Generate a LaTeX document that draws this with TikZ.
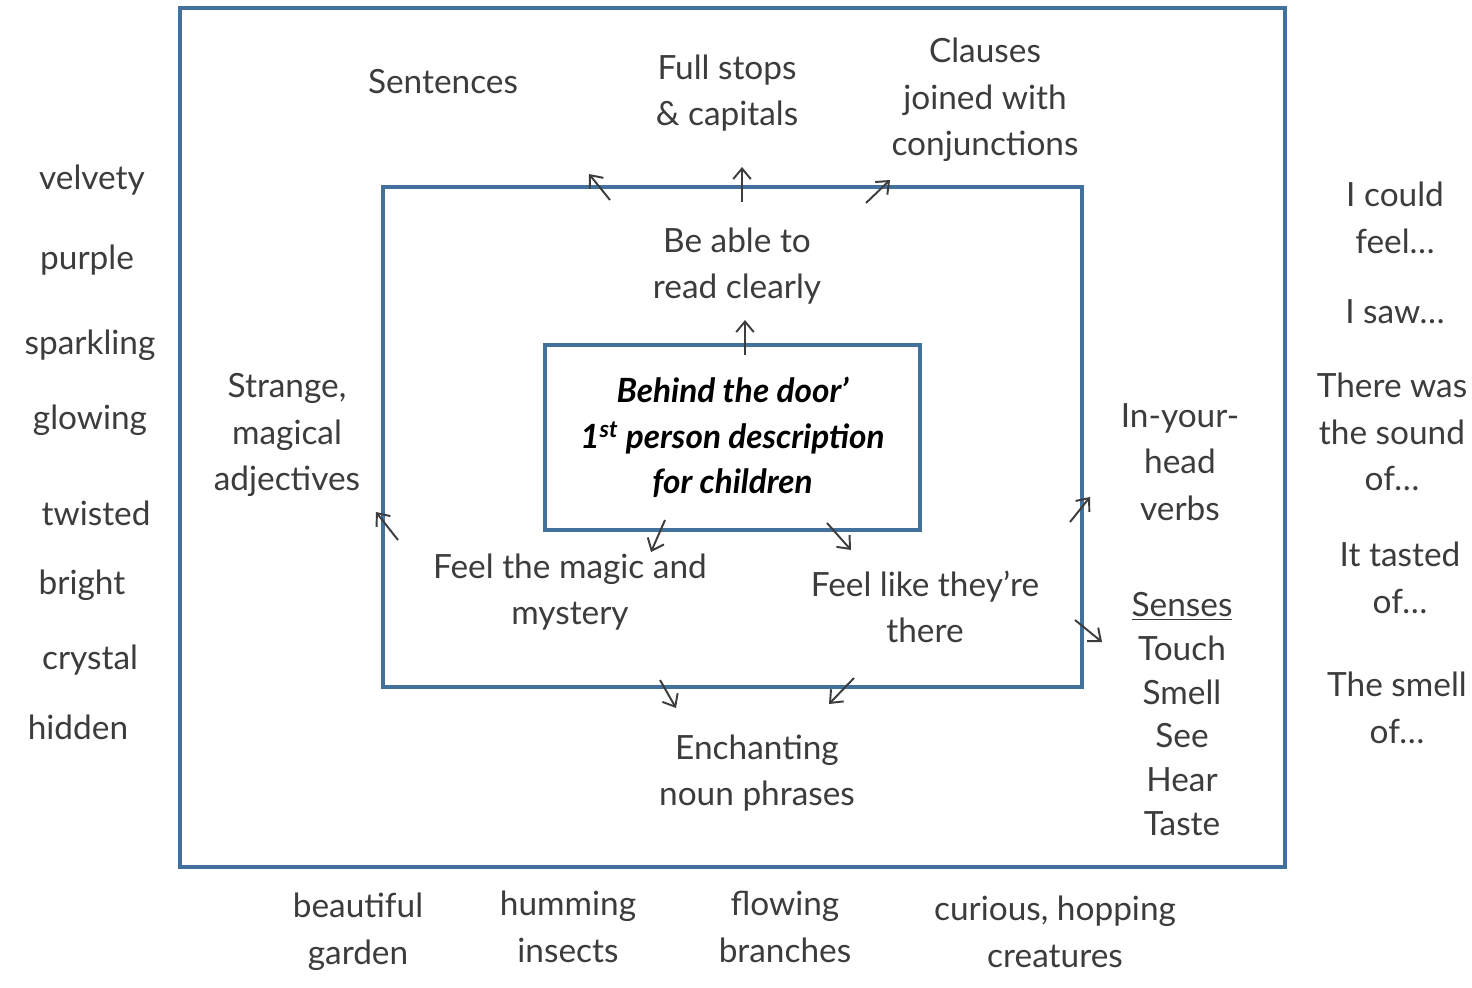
\documentclass[tikz,border=0pt]{standalone}
\usepackage{fontspec}
\setmainfont{Lato}
\usepackage{tikz}
\usetikzlibrary{arrows.meta,positioning}

\definecolor{boxblue}{HTML}{41719C}
\definecolor{ink}{HTML}{3C3C3C}

\begin{document}
\begin{tikzpicture}[x=0.02cm, y=-0.02cm, >={Straight Barb[length=6pt,width=10pt]}, semithick]

    \tikzstyle{frame} = [rectangle, draw=boxblue, line width=2.3pt, inner sep=0pt]
    \tikzstyle{lbl}   = [text=ink, align=center, font=\fontsize{19}{26.5}\selectfont]
    \tikzstyle{arr}   = [->, draw=ink, line width=1.1pt]

    \useasboundingbox[fill=white] (0,0) rectangle (1472,988);

    % the three boxes
    \node (outer)  [frame, minimum width=22.1cm,  minimum height=17.18cm] at (732.5,437.5) {};
    \node (middle) [frame, minimum width=13.98cm, minimum height=10cm]    at (732.5,437)   {};
    \node (core)   [frame, minimum width=7.5cm,   minimum height=3.7cm,
                    align=center, font=\fontsize{19}{26}\selectfont\bfseries\itshape] at (732.5,437.5)
                   {Behind the door’\\1\textsuperscript{st} person description\\for children};

    % labels inside the outer box
    \node (sent)    [lbl] at (443,82)   {Sentences};
    \node (stops)   [lbl] at (727,93)   {Full stops\\\& capitals};
    \node (clauses) [lbl] at (985,100)  {Clauses\\joined with\\conjunctions};
    \node (read)    [lbl] at (737,266)  {Be able to\\read clearly};
    \node (adj)     [lbl] at (287,435)  {Strange,\\magical\\adjectives};
    \node (verbs)   [lbl] at (1180,462) {In-your-\\head\\verbs};
    \node (magic)   [lbl] at (570,592)  {Feel the magic and\\mystery};
    \node (there)   [lbl] at (925,607)  {Feel like they’re\\there};
    \node (senses)  [lbl, font=\fontsize{19}{25}\selectfont] at (1182,714)
                    {\underline{Senses}\\Touch\\Smell\\See\\Hear\\Taste};
    \node (noun)    [lbl] at (757,773)  {Enchanting\\noun phrases};

    % word banks
    \node (w1) [lbl] at (92,180)  {velvety};
    \node (w2) [lbl] at (87,260)  {purple};
    \node (w3) [lbl] at (90,345)  {sparkling};
    \node (w4) [lbl] at (90,420)  {glowing};
    \node (w5) [lbl] at (96,513)  {twisted};
    \node (w6) [lbl] at (82,585)  {bright};
    \node (w7) [lbl] at (90,660)  {crystal};
    \node (w8) [lbl] at (78,727)  {hidden};

    \node (p1) [lbl] at (1395,218) {I could\\feel…};
    \node (p2) [lbl] at (1395,312) {I saw…};
    \node (p3) [lbl] at (1392,432) {There was\\the sound\\of…};
    \node (p4) [lbl] at (1400,578) {It tasted\\of…};
    \node (p5) [lbl] at (1397,708) {The smell\\of…};

    \node (b1) [lbl] at (358,932)  {beautiful\\garden};
    \node (b2) [lbl] at (568,927)  {humming\\insects};
    \node (b3) [lbl] at (785,927)  {flowing\\branches};
    \node (b4) [lbl] at (1055,932) {curious, hopping\\creatures};

    % arrow ends
    \coordinate (sentA)    at (610,200);  \coordinate (sentB)    at (589,174);
    \coordinate (stopsA)   at (742,202);  \coordinate (stopsB)   at (742,167);
    \coordinate (clausesA) at (866,203);  \coordinate (clausesB) at (890,180);
    \coordinate (readA)    at (745,355);  \coordinate (readB)    at (745,320);
    \coordinate (adjA)     at (398,540);  \coordinate (adjB)     at (376,512);
    \coordinate (magicA)   at (665,520);  \coordinate (magicB)   at (651,552);
    \coordinate (thereA)   at (827,523);  \coordinate (thereB)   at (851,550);
    \coordinate (verbsA)   at (1070,522); \coordinate (verbsB)   at (1090,497);
    \coordinate (sensesA)  at (1075,620); \coordinate (sensesB)  at (1102,642);
    \coordinate (nounA)    at (660,680);  \coordinate (nounB)    at (676,708);
    \coordinate (nounC)    at (854,678);  \coordinate (nounD)    at (829,704);

    \draw[arr] (sentA)    -- (sentB);
    \draw[arr] (stopsA)   -- (stopsB);
    \draw[arr] (clausesA) -- (clausesB);
    \draw[arr] (readA)    -- (readB);
    \draw[arr] (adjA)     -- (adjB);
    \draw[arr] (magicA)   -- (magicB);
    \draw[arr] (thereA)   -- (thereB);
    \draw[arr] (verbsA)   -- (verbsB);
    \draw[arr] (sensesA)  -- (sensesB);
    \draw[arr] (nounA)    -- (nounB);
    \draw[arr] (nounC)    -- (nounD);
\end{tikzpicture}
\end{document}
